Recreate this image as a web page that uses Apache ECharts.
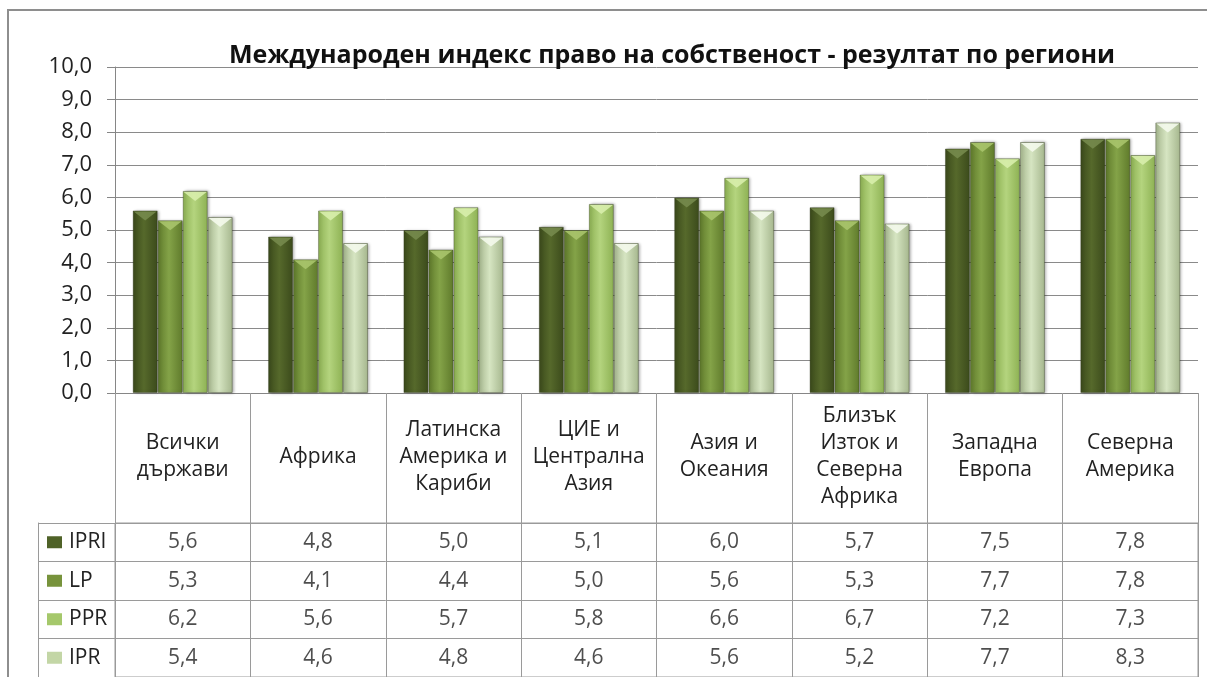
<!DOCTYPE html>
<html>
<head>
<meta charset="utf-8">
<script src="https://cdn.jsdelivr.net/npm/echarts@6/dist/echarts.min.js"></script>
<style>
  html, body { margin: 0; padding: 0; background: #fff; overflow: hidden; }
  #frame { position: absolute; left: 7px; top: 9px; width: 1230px; height: 700px; border: 2px solid #8e8e8e; }
  #chart { position: absolute; left: 0; top: 0; width: 1207px; height: 677px; }
</style>
</head>
<body>
<div id="frame"></div>
<div id="chart"></div>
<script>
// data
var categories = [
  "Всички\nдържави",
  "Африка",
  "Латинска\nАмерика и\nКариби",
  "ЦИЕ и\nЦентрална\nАзия",
  "Азия и\nОкеания",
  "Близък\nИзток и\nСеверна\nАфрика",
  "Западна\nЕвропа",
  "Северна\nАмерика"
];
var seriesNames = ["IPRI", "LP", "PPR", "IPR"];
var ipri = [5.6, 4.8, 5.0, 5.1, 6.0, 5.7, 7.5, 7.8];
var lp = [5.3, 4.1, 4.4, 5.0, 5.6, 5.3, 7.7, 7.8];
var ppr = [6.2, 5.6, 5.7, 5.8, 6.6, 6.7, 7.2, 7.3];
var ipr = [5.4, 4.6, 4.8, 4.6, 5.6, 5.2, 7.7, 8.3];
var yMin = 0, yMax = 10, yStep = 1;

var values = [ipri, lp, ppr, ipr];
// edge / centre / legend / bevel colours per series
var palette = [
  ["#3b4a1b", "#56692b", "#4f6228", "#76894d"],
  ["#5f7a2b", "#84a348", "#77933c", "#a8c46c"],
  ["#8db153", "#b4d47e", "#a5c86b", "#d8eeac"],
  ["#a5b68d", "#d6e5c2", "#c3d6a6", "#f4f9ec"]
];
var FONT = "Open Sans";

function fmt(v) {
  return v.toFixed(1).replace(".", ",");
}

var chart = echarts.init(document.getElementById("chart"));

var barSeries = seriesNames.map(function (name, i) {
  return {
    name: name,
    type: "bar",
    xAxisIndex: 0,
    yAxisIndex: 0,
    barWidth: 25,
    barGap: "0%",
    data: values[i],
    itemStyle: {
      color: new echarts.graphic.LinearGradient(0, 0, 1, 0, [
        { offset: 0, color: palette[i][0] },
        { offset: 0.45, color: palette[i][1] },
        { offset: 1, color: palette[i][0] }
      ]),
      borderColor: "rgba(40,50,20,0.35)",
      borderWidth: 1,
      shadowColor: "rgba(0,0,0,0.35)",
      shadowBlur: 3,
      shadowOffsetX: 1.5
    },
    emphasis: { disabled: true }
  };
});

// bevel highlight on top of each bar
var bevelSeries = seriesNames.map(function (name, i) {
  return {
    name: name + " bevel",
    type: "pictorialBar",
    xAxisIndex: 0,
    yAxisIndex: 0,
    barWidth: 25,
    barGap: "0%",
    symbol: "path://M0,0L24,0L12,8Z",
    symbolSize: [23, 9],
    symbolPosition: "end",
    symbolOffset: [0, 1],
    data: values[i],
    z: 3,
    itemStyle: { color: palette[i][3], opacity: 0.9 },
    emphasis: { disabled: true }
  };
});

// table cells
var cellData = [];
values.forEach(function (row, r) {
  row.forEach(function (v, c) {
    cellData.push([c, r, v]);
  });
});

var rich = {};
seriesNames.forEach(function (n, i) {
  rich["sq" + i] = { width: 15, height: 12, backgroundColor: palette[i][2] };
});
rich.t = { fontSize: 21, color: "#222", fontFamily: FONT, padding: [0, 0, 0, 7] };

chart.setOption({
  animation: false,
  title: {
    text: "Международен индекс право на собственост - резултат по региони",
    left: 667,
    textAlign: "center",
    top: 38,
    textStyle: { fontFamily: FONT, fontSize: 25, fontWeight: "bold", color: "#111" }
  },
  grid: [
    { left: 115, right: 9, top: 67, height: 326 },
    { left: 115, right: 9, top: 523, height: 160, show: true, borderColor: "#9a9a9a", borderWidth: 1 }
  ],
  xAxis: [
    {
      type: "category",
      gridIndex: 0,
      data: categories,
      axisLine: { show: true, lineStyle: { color: "#868686" } },
      axisTick: { show: true, length: 300, lineStyle: { color: "#9a9a9a" } },
      axisLabel: {
        interval: 0,
        margin: 64,
        verticalAlign: "middle",
        fontFamily: FONT,
        fontSize: 21,
        lineHeight: 27,
        color: "#222"
      }
    },
    {
      type: "category",
      gridIndex: 1,
      data: categories,
      axisLine: { show: false },
      axisTick: { show: false },
      axisLabel: { show: false },
      splitLine: { show: true, lineStyle: { color: "#9a9a9a" } }
    }
  ],
  yAxis: [
    {
      type: "value",
      gridIndex: 0,
      min: yMin,
      max: yMax,
      interval: yStep,
      axisLine: { show: true, lineStyle: { color: "#868686" } },
      axisTick: { show: true, length: 8, lineStyle: { color: "#868686" } },
      splitLine: { lineStyle: { color: "#8a8a8a" } },
      axisLabel: {
        margin: 23,
        fontFamily: FONT,
        fontSize: 22,
        color: "#222",
        formatter: fmt
      }
    },
    {
      type: "category",
      gridIndex: 1,
      inverse: true,
      data: seriesNames,
      axisLine: { show: true, lineStyle: { color: "#9a9a9a" } },
      axisTick: { show: true, length: 77, lineStyle: { color: "#9a9a9a" } },
      splitLine: { show: true, lineStyle: { color: "#9a9a9a" } },
      axisLabel: {
        align: "left",
        margin: 68,
        formatter: function (v, idx) {
          return "{sq" + idx + "|}{t|" + v + "}";
        },
        rich: rich
      }
    },
    {
      type: "value",
      gridIndex: 1,
      position: "left",
      offset: 77,
      axisLine: { show: true, lineStyle: { color: "#9a9a9a" } },
      axisTick: { show: false },
      axisLabel: { show: false },
      splitLine: { show: false }
    }
  ],
  series: barSeries.concat(bevelSeries, [
    {
      name: "table",
      type: "scatter",
      xAxisIndex: 1,
      yAxisIndex: 1,
      symbolSize: 1,
      itemStyle: { color: "transparent" },
      data: cellData,
      label: {
        show: true,
        position: "inside",
        fontFamily: FONT,
        fontSize: 21,
        color: "#222",
        formatter: function (p) {
          return fmt(p.value[2]);
        }
      },
      emphasis: { disabled: true }
    }
  ])
});
</script>
</body>
</html>
